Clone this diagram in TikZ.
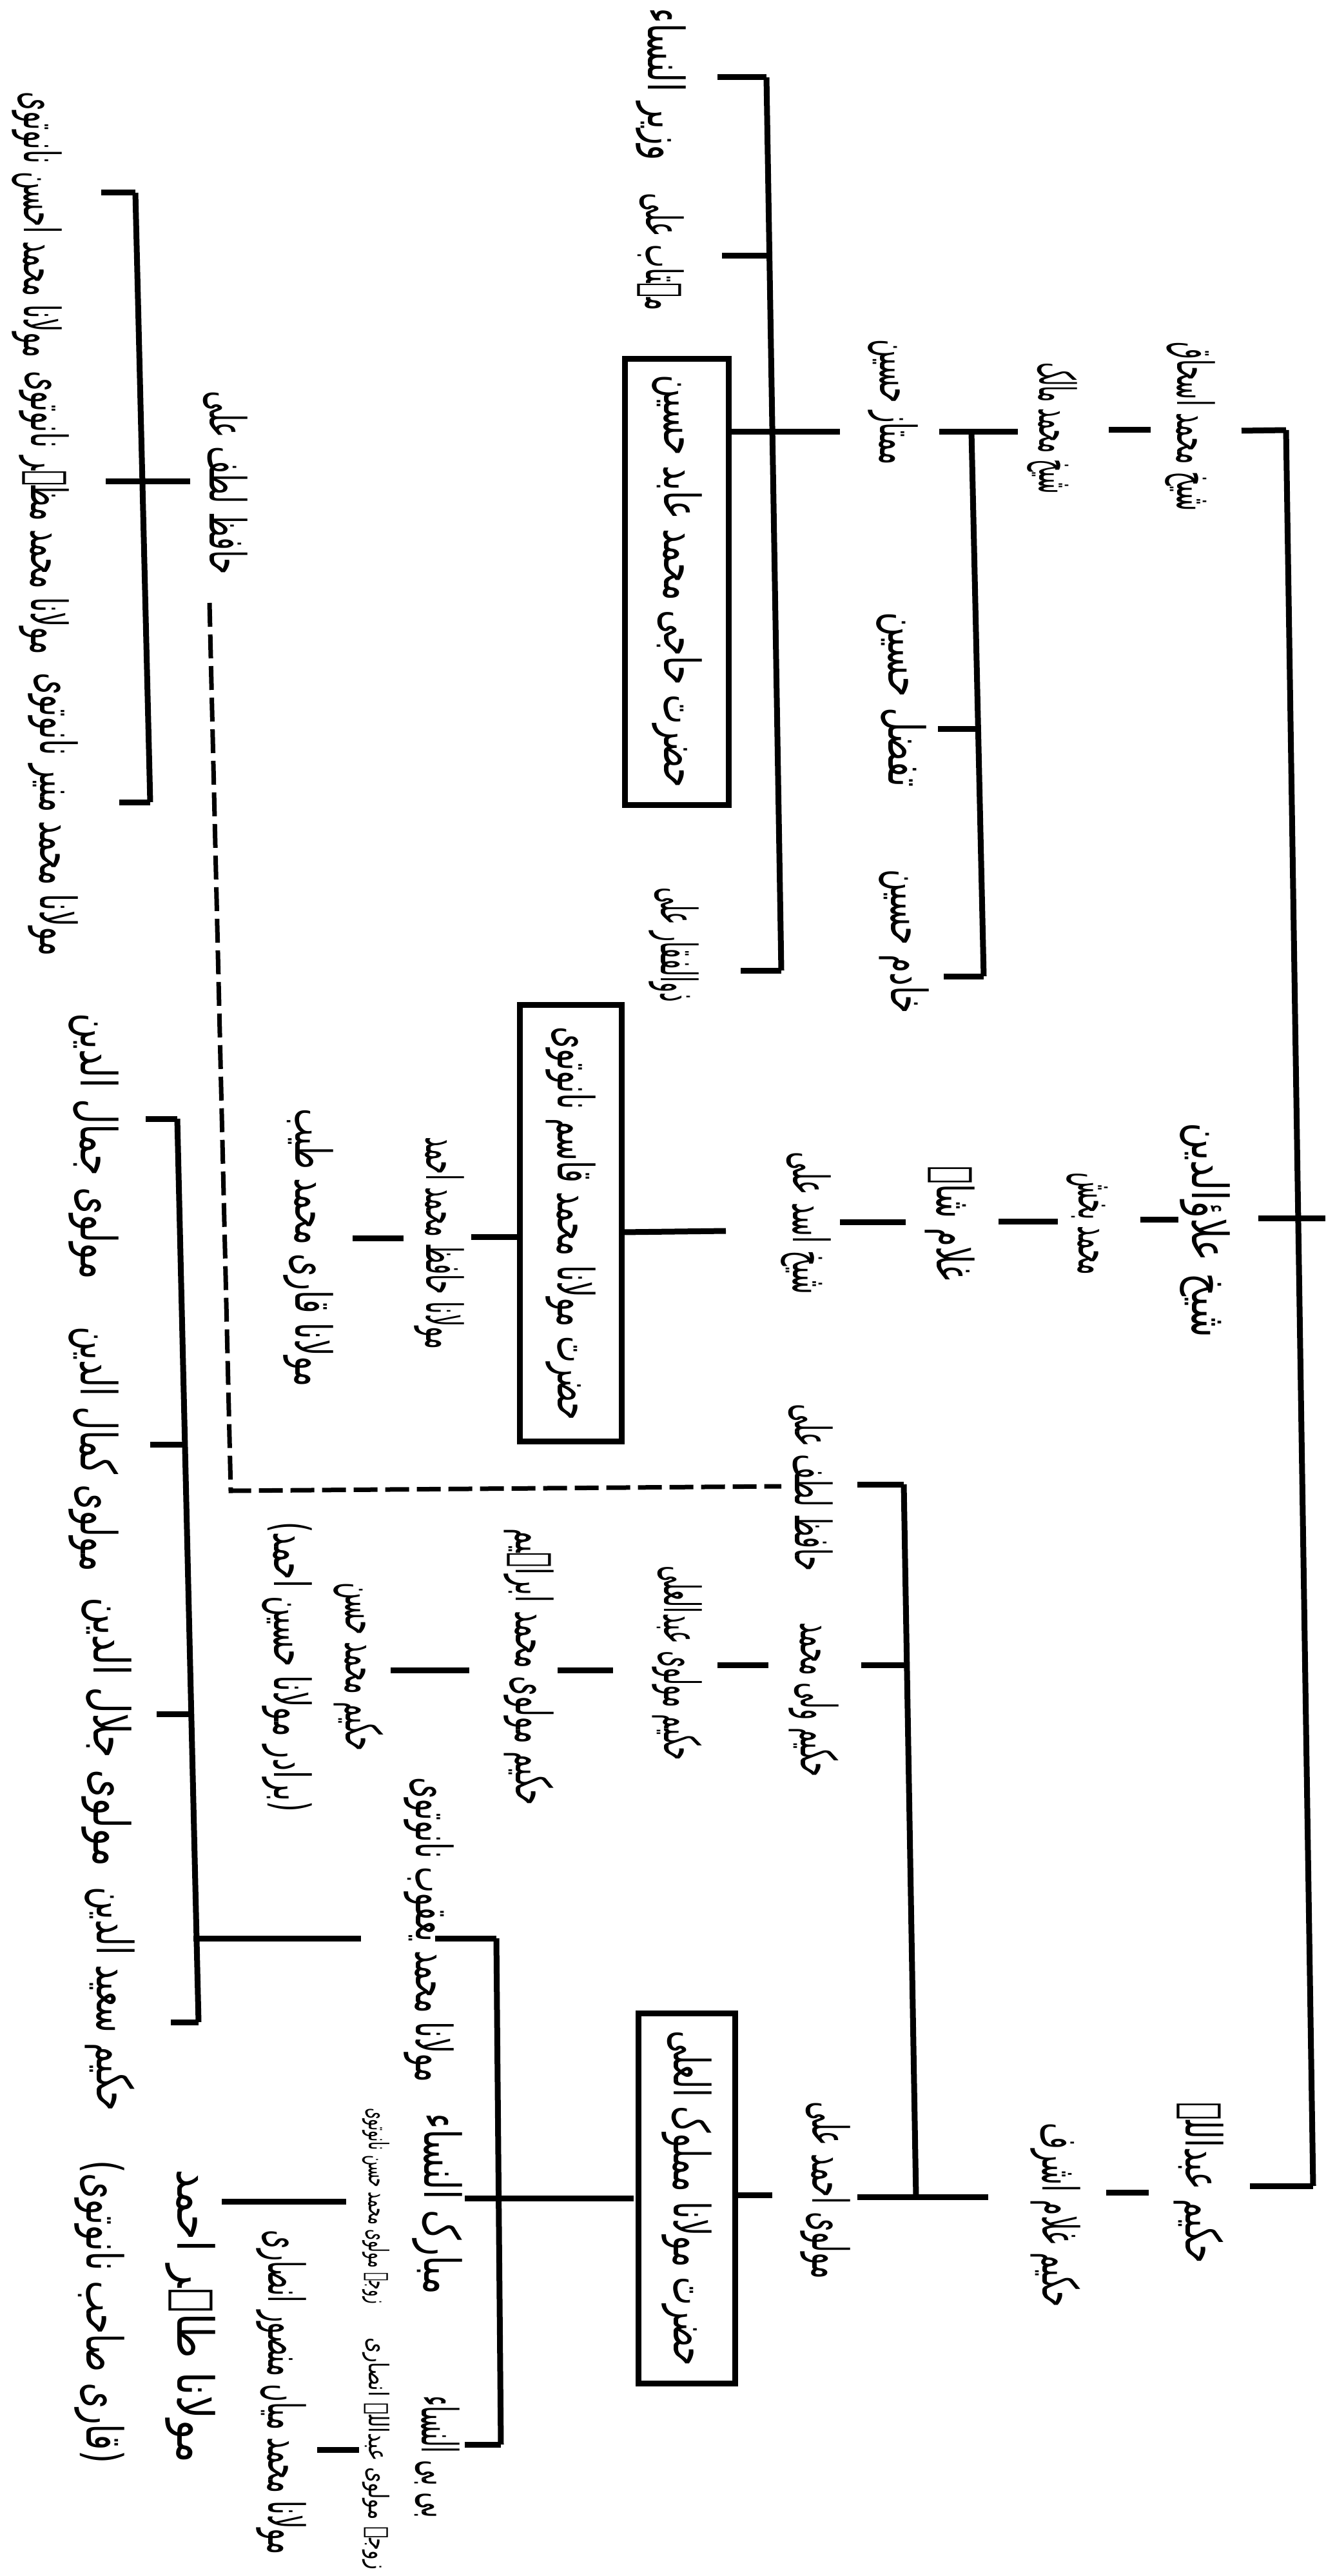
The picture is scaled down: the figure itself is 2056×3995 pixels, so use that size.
\documentclass[tikz,border=0pt]{standalone}
\usepackage{graphicx}
\usepackage{fontspec}
\newfontfamily\urdu[Script=Arabic]{DejaVu Sans}
\TeXXeTstate=1
\newlength{\unitpx}\setlength{\unitpx}{0.1mm}
% #1 = length along the text in px of the reference (0.1 mm each)
\newcommand{\T}[2]{\resizebox{#1\unitpx}{\height}{#2}}
\begin{document}
\begin{tikzpicture}[x=0.1mm,y=-0.1mm,
  lbl/.style={rotate=-90,inner sep=0.5mm,font=\urdu\fontsize{22}{24}\selectfont},
  small/.style={rotate=-90,inner sep=0.5mm,font=\urdu\fontsize{12}{13}\selectfont},
  boxed/.style={lbl,draw,line width=0.9mm},
  ln/.style={line width=0.9mm},
  dln/.style={line width=0.7mm,dash pattern=on 3.7mm off 1.2mm}]
\useasboundingbox (0,0) rectangle (2056,3995);
% ================= top group
\node[lbl] (A1) at (1846,662) {\T{262}{\beginR شیخ محمد اسحاق\endR}};
\node[lbl] (B1) at (1632,664) {\T{204}{\beginR شیخ محمد مالک\endR}};
\node[lbl] (C1a) at (1385,624) {\T{194}{\beginR ممتاز حسین\endR}};
\node[lbl] (C1b) at (1398,1085) {\T{272}{\beginR تفضل حسین\endR}};
\node[lbl] (C1c) at (1402,1460) {\T{223}{\beginR خادم حسین\endR}};
\node[lbl] (D1a) at (1025,131) {\T{237}{\beginR وزیر النساء\endR}};
\node[lbl] (D1b) at (1025,391) {\T{182}{\beginR مہتاب علی\endR}};
\node[boxed,minimum width=69.2mm,minimum height=16.1mm] (DB) at (1050,902) {\T{640}{\beginR حضرت حاجی محمد عابد حسین\endR}};
\node[lbl] (D1d) at (1045,1465) {\T{178}{\beginR ذوالفقار علی\endR}};
\coordinate (R1) at (1995,667);
\coordinate (R2) at (2037,3390);
\draw[ln] (R1) -- (R2);
\draw[ln] (1926,668) -- (R1);
\draw[ln] (1720,667) -- (1785,667);
\coordinate (T1a) at (1507,670);
\coordinate (T1b) at (1526,1514);
\draw[ln] (1457,670) -- (1579,670);
\draw[ln] (T1a) -- (T1b);
\draw[ln] (1455,1130) -- (1516,1130);
\draw[ln] (1464,1514) -- (T1b);
\coordinate (T2a) at (1189,120);
\coordinate (T2b) at (1212,1505);
\draw[ln] (1130,670) -- (1303,670);
\draw[ln] (T2a) -- (T2b);
\draw[ln] (1113,120) -- (T2a);
\draw[ln] (1120,397) -- (1197,397);
\draw[ln] (1149,1505) -- (T2b);
% ================= top-left group
\node[lbl] (LA) at (350,749) {\T{284}{\beginR حافظ لطف علی\endR}};
\node[lbl] (LL1) at (57,349) {\T{412}{\beginR مولانا محمد احسن نانوتوی\endR}};
\node[lbl] (LL2) at (68,795) {\T{440}{\beginR مولانا محمد مظہر نانوتوی\endR}};
\node[lbl] (LL3) at (82,1263) {\T{440}{\beginR مولانا محمد منیر نانوتوی\endR}};
\coordinate (La) at (210,299);
\coordinate (Lb) at (233,1244);
\draw[ln] (La) -- (Lb);
\draw[ln] (157,299) -- (La);
\draw[ln] (164,746) -- (295,746);
\draw[ln] (185,1244) -- (Lb);
% ================= middle chain
\node[lbl] (A2) at (1869,1908) {\T{333}{\beginR شیخ علاؤالدین\endR}};
\node[lbl] (B2) at (1687,1898) {\T{159}{\beginR محمد بخش\endR}};
\node[lbl] (C2) at (1474,1897) {\T{177}{\beginR غلام شاہ\endR}};
\node[lbl] (D2) at (1250,1897) {\T{221}{\beginR شیخ اسد علی\endR}};
\node[boxed,minimum width=67.7mm,minimum height=15.8mm] (M) at (885,1897) {\T{610}{\beginR حضرت مولانا محمد قاسم نانوتوی\endR}};
\node[lbl] (E2) at (681,1928) {\T{329}{\beginR مولانا حافظ محمد احمد\endR}};
\node[lbl] (F2) at (478,1935) {\T{431}{\beginR مولانا قاری محمد طیب\endR}};
\draw[ln] (1952,1889) -- (2056,1889);
\draw[ln] (1769,1891) -- (1828,1891);
\draw[ln] (1549,1894) -- (1641,1894);
\draw[ln] (1303,1895) -- (1405,1895);
\draw[ln] (964,1911) -- (1126,1909);
\draw[ln] (731,1918) -- (806,1918);
\draw[ln] (547,1920) -- (626,1920);
% dashed link between the two places of Hafiz Lutf Ali
\node[lbl] (G1) at (1258,2307) {\T{259}{\beginR حافظ لطف علی\endR}};
\draw[dln] (325,935) -- (358,2312) -- (1212,2305);
% ================= lower right
\node[lbl] (A3) at (1860,3385) {\T{249}{\beginR حکیم عبداللہ\endR}};
\node[lbl] (B3) at (1637,3435) {\T{285}{\beginR حکیم غلام اشرف\endR}};
\node[lbl] (G2) at (1262,2636) {\T{239}{\beginR حکیم ولی محمد\endR}};
\node[lbl] (H2) at (1050,2579) {\T{302}{\beginR حکیم مولوی عبدالعلی\endR}};
\node[lbl] (H3) at (820,2585) {\T{430}{\beginR حکیم مولوی محمد ابراہیم\endR}};
\node[lbl] (H4) at (556,2585) {\T{261}{\beginR حکیم محمد حسن\endR}};
\node[lbl] (H4b) at (445,2585) {\T{450}{\beginR (برادر مولانا حسین احمد)\endR}};
\node[lbl] (AA) at (1280,3397) {\T{275}{\beginR مولوی احمد علی\endR}};
\node[boxed,minimum width=57.4mm,minimum height=15mm] (MA) at (1065,3409) {\T{520}{\beginR حضرت مولانا مملوک العلی\endR}};
\draw[ln] (1939,3390) -- (R2);
\draw[ln] (1716,3400) -- (1782,3400);
\coordinate (Ga) at (1402,2302);
\coordinate (Gb) at (1421,3407);
\draw[ln] (Ga) -- (Gb);
\draw[ln] (Gb) -- (1533,3407);
\draw[ln] (1330,2302) -- (Ga);
\draw[ln] (1336,2582) -- (1406,2582);
\draw[ln] (1330,3407) -- (Gb);
\draw[ln] (1113,2582) -- (1192,2582);
\draw[ln] (865,2590) -- (951,2590);
\draw[ln] (606,2590) -- (728,2590);
\draw[ln] (1136,3404) -- (1198,3404);
% ================= lower left
\node[lbl] (N1) at (665,2993) {\T{473}{\beginR مولانا محمد یعقوب نانوتوی\endR}};
\node[lbl] (N2) at (678,3418) {\T{281}{\beginR مبارک النساء\endR}};
\node[small] (N2b) at (583,3421) {\T{304}{\beginR زوجۂ مولوی محمد حسن نانوتوی\endR}};
\node[lbl] (N3) at (678,3810) {\T{190}{\beginR بی بی النساء\endR}};
\node[small] (N3b) at (583,3805) {\T{360}{\beginR زوجۂ مولوی عبداللہ انصاری\endR}};
\node[lbl] (P1) at (295,3592) {\T{456}{\beginR مولانا طاہر احمد\endR}};
\node[lbl] (P1b) at (154,3585) {\T{470}{\beginR (قاری صاحب نانوتوی)\endR}};
\node[lbl] (P2) at (436,3710) {\T{503}{\beginR مولانا محمد میاں منصور انصاری\endR}};
\coordinate (MBa) at (770,3006);
\coordinate (MBb) at (777,3791);
\draw[ln] (721,3409) -- (983,3409);
\draw[ln] (MBa) -- (MBb);
\draw[ln] (675,3006) -- (MBa);
\draw[ln] (721,3791) -- (MBb);
\draw[ln] (344,3414) -- (537,3414);
\draw[ln] (492,3799) -- (557,3799);
\node[lbl] (K1) at (145,1778) {\T{413}{\beginR مولوی جمال الدین\endR}};
\node[lbl] (K2) at (145,2247) {\T{380}{\beginR مولوی کمال الدین\endR}};
\node[lbl] (K3) at (165,2686) {\T{418}{\beginR مولوی جلال الدین\endR}};
\node[lbl] (K4) at (170,3100) {\T{348}{\beginR حکیم سعید الدین\endR}};
\coordinate (Ka) at (275,1735);
\coordinate (Kb) at (308,3136);
\draw[ln] (Ka) -- (Kb);
\draw[ln] (226,1735) -- (Ka);
\draw[ln] (233,2240) -- (287,2240);
\draw[ln] (243,2658) -- (297,2658);
\draw[ln] (265,3136) -- (Kb);
\draw[ln] (300,3006) -- (560,3006);
\end{tikzpicture}
\end{document}
